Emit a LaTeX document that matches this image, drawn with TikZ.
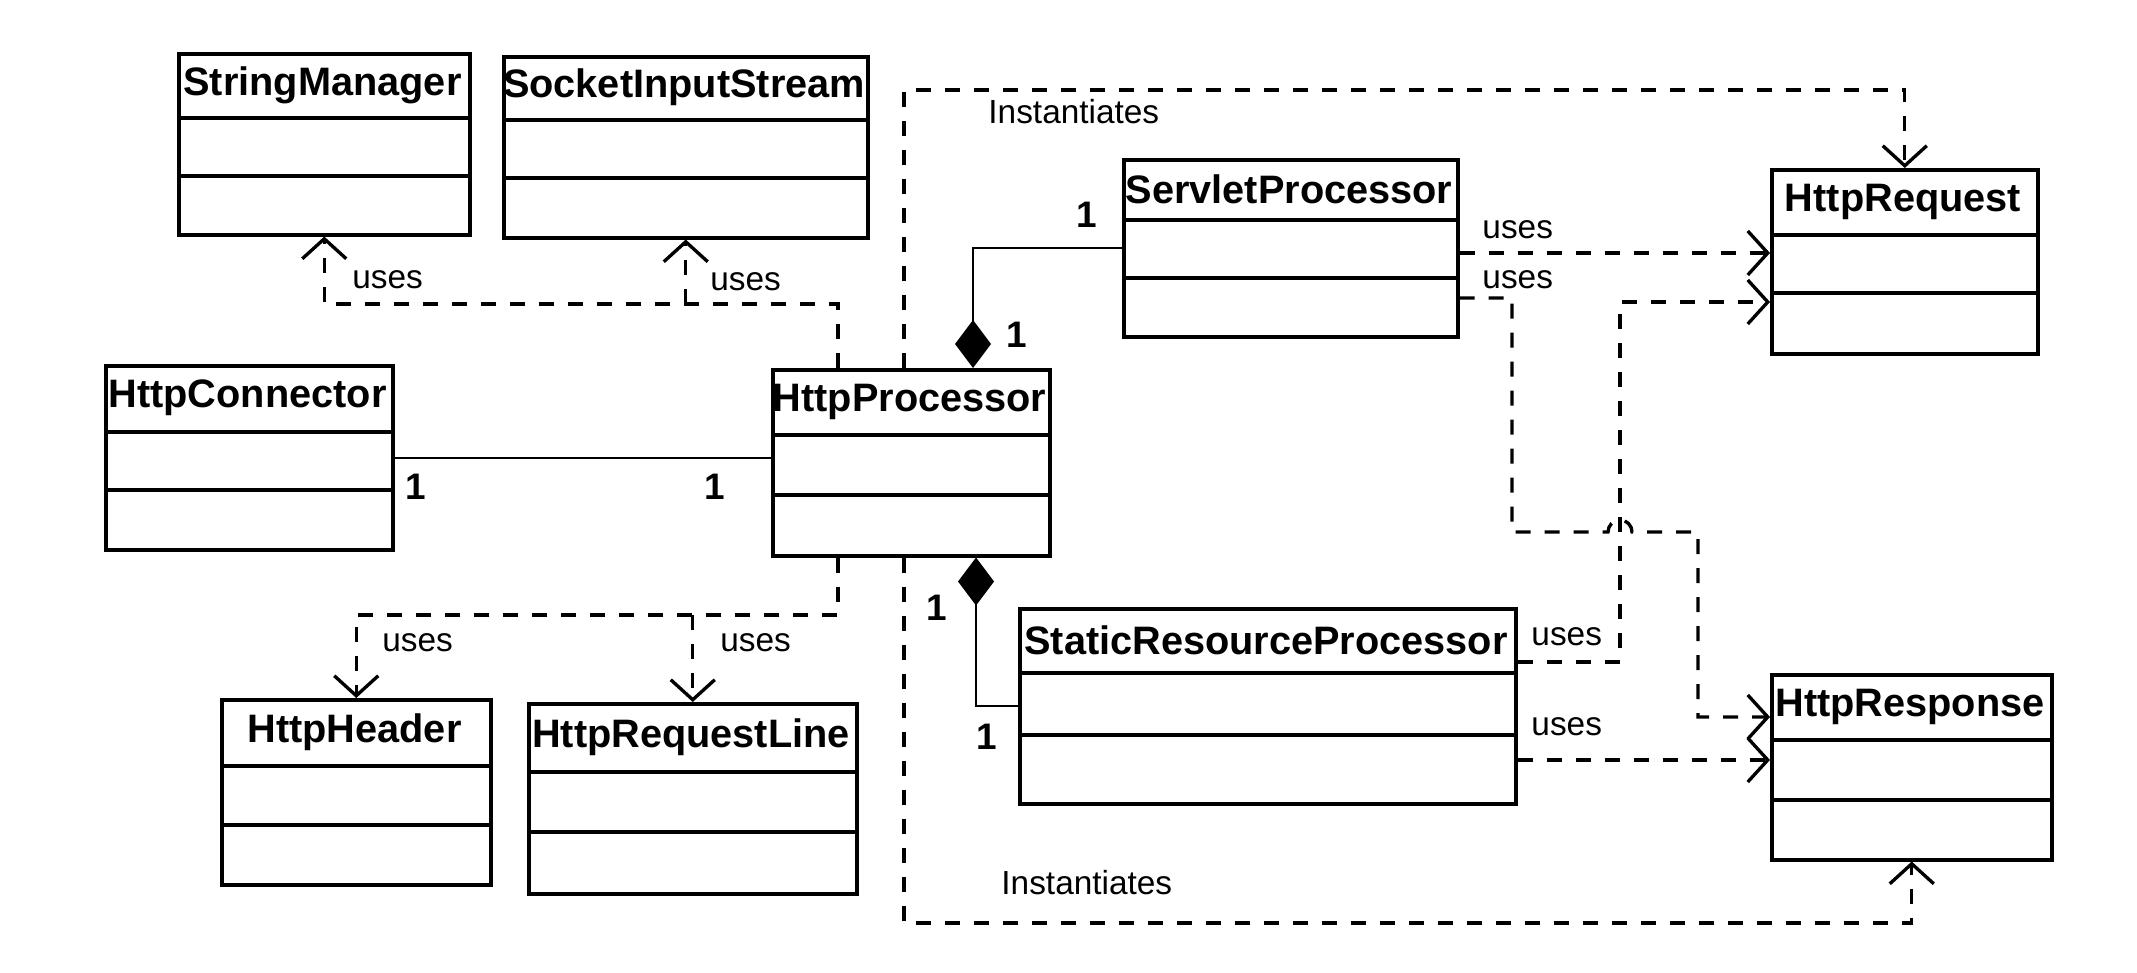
\documentclass[tikz,border=0pt]{standalone}
\usepackage{fontspec}
\setmainfont{Liberation Sans}
\usetikzlibrary{arrows.meta,positioning,calc}

\begin{document}
\begin{tikzpicture}[x=0.1mm,y=-0.1mm,
 clsbox/.style={draw,line width=1pt,anchor=north west,inner sep=0pt},
 clsname/.style={font=\fontsize{11.3}{13}\selectfont\bfseries},
 lbl/.style={font=\fontsize{9.5}{11}\selectfont,anchor=west},
 mult/.style={font=\fontsize{10.5}{12}\selectfont\bfseries},
 dep/.style={line width=0.95pt,dash pattern=on 1.5mm off 1.4mm,-{Straight Barb[length=2mm,width=4.4mm]}},
 assoc/.style={line width=0.6pt},
 comp/.style={line width=0.7pt,-{Diamond[length=4.8mm,width=3.6mm]}}]
\useasboundingbox (0,0) rectangle (2137,973);
% class boxes: name, x left/right, y top/dividers/bottom
\foreach \nm/\txt/\xa/\xb/\ya/\yb/\yc/\yd in {
 sm/StringManager/177/468/52/118/176/233,
 sis/SocketInputStream/502/866/55/120/178/236,
 hc/HttpConnector/104/391/364/432/490/548,
 hp/HttpProcessor/771/1048/368/435/495/554,
 hh/HttpHeader/220/489/698/766/825/883,
 hrl/HttpRequestLine/527/855/702/772/832/892,
 sp/ServletProcessor/1122/1456/158/220/278/335,
 srp/StaticResourceProcessor/1018/1514/607/673/735/802,
 hreq/HttpRequest/1770/2036/168/235/293/352,
 hres/HttpResponse/1770/2050/673/740/800/858}{
 \node[clsbox,minimum width={(\xb-\xa)*0.1mm},minimum height={(\yd-\ya)*0.1mm}] (\nm) at (\xa,\ya) {};
 \draw[line width=1pt] (\xa,\yb)--(\xb,\yb) (\xa,\yc)--(\xb,\yc);
 \node[clsname] (\nm-name) at ({(\xa+\xb)/2},{(\ya+\yb)/2}) {\txt};
}
% association and compositions
\draw[assoc] (hc.east) -- (hp.west |- hc.east);
\node[mult] (m-hc) at (416,487) {1};
\node[mult] (m-hp) at (715,487) {1};
\draw[comp] (sp.west) -| (973,0 |- hp.north);
\node[mult] (m-sp) at (1087,215) {1};
\node[mult] (m-hpt) at (1017,335) {1};
\draw[comp] (srp.west) -| (976,0 |- hp.south);
\node[mult] (m-hpb) at (937,608) {1};
\node[mult] (m-srp) at (987,737) {1};
% uses, top left
\draw[dep] (838,0 |- hp.north) |- (sm.south |- 0,304) -- (sm.south);
\coordinate (ujoin) at (sis.south |- 0,304);
\draw[dep] (ujoin) -- (sis.south);
\node[lbl] (u-sm) at (340,280) {uses};
\node[lbl] (u-sis) at (698,282) {uses};
% uses, bottom left
\draw[dep] (838,0 |- hp.south) |- (hh.north |- 0,615) -- (hh.north);
\coordinate (ljoin) at (hrl.north |- 0,615);
\draw[dep] (ljoin) -- (hrl.north);
\node[lbl] (u-hh) at (370,643) {uses};
\node[lbl] (u-hrl) at (708,643) {uses};
% instantiates
\draw[dep] (904,0 |- hp.north) |- (hreq.north |- 0,90) -- (hreq.north);
\node[lbl] (inst-t) at (976,112) {Instantiates};
\draw[dep] (904,0 |- hp.south) |- (hres.south |- 0,923) -- (hres.south);
\node[lbl] (inst-b) at (989,883) {Instantiates};
% uses, right side
\draw[dep] (sp.east |- 0,253) -- (hreq.west |- 0,253);
\node[lbl] (u-sp1) at (1470,230) {uses};
\draw[dep] (sp.east |- 0,298) -- (1512,298) -- (1512,532) -- (1608,532)
 arc[start angle=180,end angle=360,radius=12] -- (1698,532) |- (hres.west |- 0,717);
\node[lbl] (u-sp2) at (1470,280) {uses};
\draw[dep] (srp.east |- 0,662) -- (1620,662) |- (hreq.west |- 0,302);
\node[lbl] (u-srp1) at (1519,637) {uses};
\draw[dep] (srp.east |- 0,760) -- (hres.west |- 0,760);
\node[lbl] (u-srp2) at (1519,727) {uses};
\end{tikzpicture}
\end{document}
